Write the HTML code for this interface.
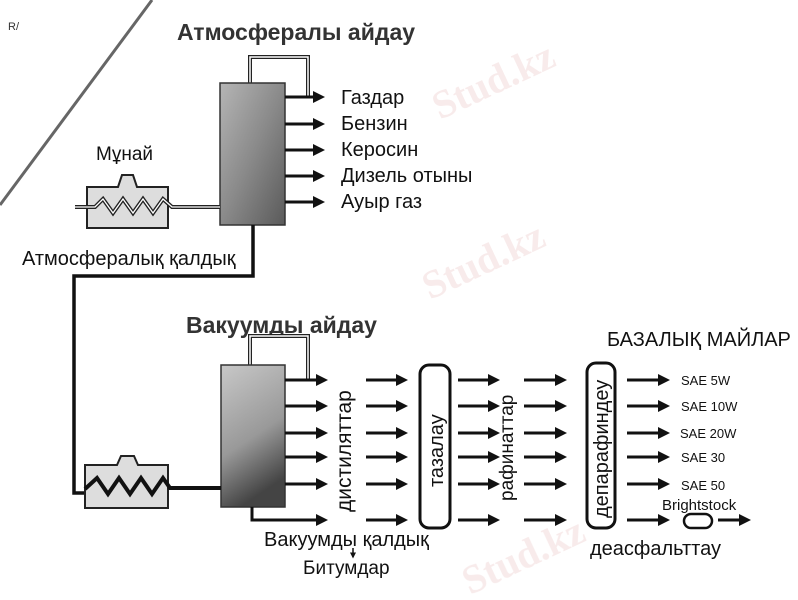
<!DOCTYPE html>
<html><head><meta charset="utf-8"><style>
html,body{margin:0;padding:0;background:#fff;}
svg{display:block;font-family:"Liberation Sans",sans-serif;}
</style></head><body>
<svg width="798" height="600" viewBox="0 0 798 600" xmlns="http://www.w3.org/2000/svg">
<defs>
<marker id="ah" markerWidth="4" markerHeight="4" refX="3" refY="2" orient="auto" markerUnits="strokeWidth">
<path d="M0,0 L4,2 L0,4 Z" fill="#111"/></marker>
<linearGradient id="col" x1="0" y1="0" x2="1" y2="1">
<stop offset="0" stop-color="#b5b5b5"/><stop offset="0.5" stop-color="#8a8a8a"/><stop offset="1" stop-color="#5a5a5a"/></linearGradient>
<linearGradient id="col2" x1="0" y1="0" x2="0.3" y2="1">
<stop offset="0" stop-color="#c8c8c8"/><stop offset="0.6" stop-color="#999"/><stop offset="1" stop-color="#444"/></linearGradient>
</defs>
<line x1="0" y1="205" x2="152" y2="0" stroke="#666" stroke-width="3"/>
<text x="8" y="30" font-size="11" fill="#333">R/</text>
<g fill="#f3dede" font-family="Liberation Serif,serif" font-weight="bold" font-size="40" opacity="0.6">
<text x="440" y="120" transform="rotate(-25 440 120)">Stud.kz</text>
<text x="430" y="300" transform="rotate(-25 430 300)">Stud.kz</text>
<text x="470" y="595" transform="rotate(-25 470 595)">Stud.kz</text>
</g>
<text x="177" y="40" font-size="23" font-weight="bold" fill="#333">Атмосфералы айдау</text>
<path d="M250,84 V57 H308 V97" fill="none" stroke="#222" stroke-width="4"/>
<path d="M250,84 V57 H308 V97" fill="none" stroke="#fff" stroke-width="1.5"/>
<rect x="220" y="83" width="65" height="142" fill="url(#col)" stroke="#333" stroke-width="1.5"/>
<g stroke="#111" stroke-width="3" marker-end="url(#ah)">
<line x1="285" y1="97" x2="322" y2="97"/><line x1="285" y1="124" x2="322" y2="124"/>
<line x1="285" y1="150" x2="322" y2="150"/><line x1="285" y1="176" x2="322" y2="176"/>
<line x1="285" y1="202" x2="322" y2="202"/></g>
<g font-size="20" fill="#111"><text x="341" y="104">Газдар</text><text x="341" y="130">Бензин</text>
<text x="341" y="156">Керосин</text><text x="341" y="182">Дизель отыны</text><text x="341" y="208">Ауыр газ</text></g>
<text x="96" y="160" font-size="19" fill="#111">Мұнай</text>
<path d="M87,187 H118 L122,175 H133 L137,187 H168 V228 H87 Z" fill="#ddd" stroke="#222" stroke-width="2"/>
<path d="M75,207 H95 L103,199 L113,213 L123,199 L133,213 L143,199 L153,213 L163,199 L172,207 H220" fill="none" stroke="#222" stroke-width="4"/>
<path d="M75,207 H95 L103,199 L113,213 L123,199 L133,213 L143,199 L153,213 L163,199 L172,207 H220" fill="none" stroke="#fff" stroke-width="1.3"/>
<text x="22" y="265" font-size="20" fill="#111">Атмосфералық қалдық</text>
<path d="M253,225 V276 H74 V493 H86" fill="none" stroke="#111" stroke-width="3.5"/>
<text x="186" y="333" font-size="23" font-weight="bold" fill="#333">Вакуумды айдау</text>
<path d="M250,365 V336 H308 V380" fill="none" stroke="#222" stroke-width="4"/>
<path d="M250,365 V336 H308 V380" fill="none" stroke="#fff" stroke-width="1.5"/>
<rect x="221" y="365" width="64" height="142" fill="url(#col2)" stroke="#333" stroke-width="1.5"/>
<path d="M85,465 H117 L121,456 H134 L138,465 H168 V508 H85 Z" fill="#ddd" stroke="#222" stroke-width="2"/>
<path d="M85,489 L97,478 L108,494 L119,478 L130,494 L141,478 L152,494 L163,478 L170,488 H221" fill="none" stroke="#111" stroke-width="4"/>
<path d="M252,507 V520 H285" fill="none" stroke="#111" stroke-width="3"/>
<g stroke="#111" stroke-width="3" marker-end="url(#ah)">
<line x1="285" y1="380" x2="325" y2="380"/><line x1="285" y1="406" x2="325" y2="406"/><line x1="285" y1="433" x2="325" y2="433"/><line x1="285" y1="457" x2="325" y2="457"/><line x1="285" y1="484" x2="325" y2="484"/><line x1="285" y1="520" x2="325" y2="520"/>
<line x1="366" y1="380" x2="405" y2="380"/><line x1="366" y1="406" x2="405" y2="406"/><line x1="366" y1="433" x2="405" y2="433"/><line x1="366" y1="457" x2="405" y2="457"/><line x1="366" y1="484" x2="405" y2="484"/><line x1="366" y1="520" x2="405" y2="520"/>
<line x1="458" y1="380" x2="497" y2="380"/><line x1="458" y1="406" x2="497" y2="406"/><line x1="458" y1="433" x2="497" y2="433"/><line x1="458" y1="457" x2="497" y2="457"/><line x1="458" y1="484" x2="497" y2="484"/><line x1="458" y1="520" x2="497" y2="520"/>
<line x1="524" y1="380" x2="564" y2="380"/><line x1="524" y1="406" x2="564" y2="406"/><line x1="524" y1="433" x2="564" y2="433"/><line x1="524" y1="457" x2="564" y2="457"/><line x1="524" y1="484" x2="564" y2="484"/><line x1="524" y1="520" x2="564" y2="520"/>
<line x1="627" y1="380" x2="667" y2="380"/><line x1="627" y1="406" x2="667" y2="406"/><line x1="627" y1="433" x2="667" y2="433"/><line x1="627" y1="457" x2="667" y2="457"/><line x1="627" y1="484" x2="667" y2="484"/><line x1="627" y1="520" x2="667" y2="520"/>
<line x1="718" y1="520" x2="748" y2="520"/></g>
<rect x="420" y="365" width="30" height="163" rx="9" fill="#fff" stroke="#111" stroke-width="3"/>
<rect x="587" y="363" width="28" height="165" rx="9" fill="#fff" stroke="#111" stroke-width="3"/>
<rect x="684" y="514" width="28" height="14" rx="7" fill="#fff" stroke="#111" stroke-width="2.5"/>
<g font-size="21" fill="#111">
<text transform="translate(351,512) rotate(-90)">дистиляттар</text>
<text transform="translate(443,487) rotate(-90)" font-size="20">тазалау</text>
<text transform="translate(513,501) rotate(-90)" font-size="19">рафинаттар</text>
<text transform="translate(608,518) rotate(-90)" font-size="20">депарафиндеу</text>
</g>
<g font-size="13" fill="#111"><text x="681" y="385">SAE 5W</text><text x="681" y="411">SAE 10W</text><text x="680" y="438">SAE 20W</text><text x="681" y="462">SAE 30</text><text x="681" y="490">SAE 50</text>
<text x="662" y="510" font-size="15">Brightstock</text></g>
<text x="607" y="346" font-size="20" fill="#111">БАЗАЛЫҚ МАЙЛАР</text>
<text x="264" y="546" font-size="20" fill="#111">Вакуумды қалдық</text>
<line x1="353" y1="548" x2="353" y2="557" stroke="#111" stroke-width="1.5" marker-end="url(#ah)"/>
<text x="303" y="574" font-size="19" fill="#111">Битумдар</text>
<text x="590" y="555" font-size="20" fill="#111">деасфальттау</text>
</svg>
</body></html>
